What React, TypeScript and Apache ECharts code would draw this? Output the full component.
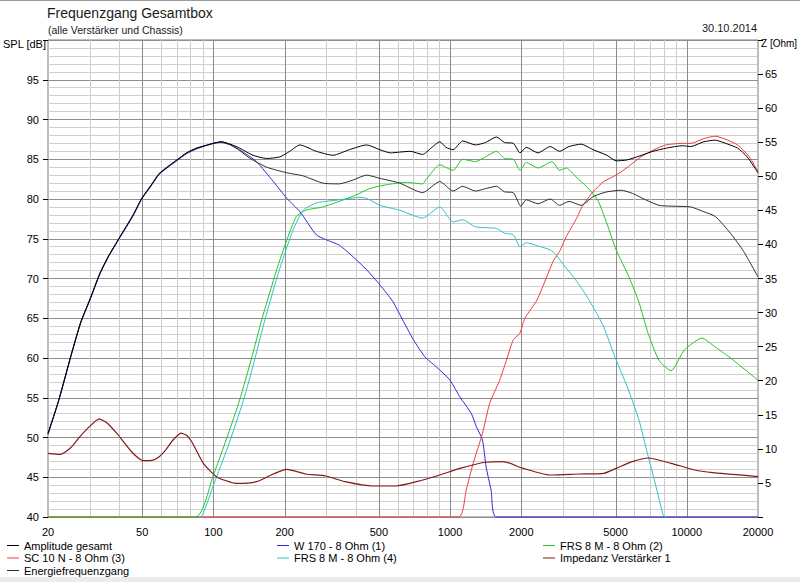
import React, { useEffect, useRef } from "react";
import * as echarts from "echarts";

const FONT = '"Liberation Sans", Arial, sans-serif';

// ---- Frequency axis grid / tick labels ----
const gridFreqs = [
  20, 30, 40, 50, 60, 70, 80, 90,
  100, 200, 300, 400, 500, 600, 700, 800, 900,
  1000, 2000, 3000, 4000, 5000, 6000, 7000, 8000, 9000,
  10000, 20000,
];
const labeledFreqs = [20, 50, 100, 200, 500, 1000, 2000, 5000, 10000, 20000];

// ---- Amplitude gesamt (dB) ----
const ampFreq = [20, 22.2, 25, 27.5, 30, 33.2, 36, 40, 45.8, 49.6, 55, 59, 65, 70, 77, 85, 100, 108, 118, 129, 147, 168, 191, 210, 232, 272, 320, 375, 444, 505, 560, 612, 680, 765, 830, 905, 960, 1030, 1130, 1280, 1410, 1570, 1700, 1850, 1975, 2100, 2350, 2650, 2900, 3180, 3580, 4020, 4600, 5030, 5570, 6300, 7200, 8200, 9600, 10400, 11800, 13200, 14900, 16400, 18000, 20000];
const ampDb = [50.5, 54.7, 60.3, 64.5, 67.3, 70.7, 72.8, 75.1, 78.0, 80.0, 81.9, 83.2, 84.2, 84.9, 85.8, 86.4, 87.0, 87.2, 86.9, 86.4, 85.5, 85.1, 85.3, 86.0, 86.8, 86.0, 85.5, 86.2, 86.8, 86.2, 85.8, 85.9, 86.0, 85.6, 86.4, 87.2, 86.5, 86.2, 87.3, 86.8, 87.1, 87.8, 87.1, 87.0, 85.8, 86.5, 85.8, 86.6, 86.0, 86.6, 86.9, 86.2, 85.5, 84.8, 84.9, 85.4, 86.0, 86.4, 86.7, 86.6, 87.2, 87.4, 86.9, 86.4, 85.3, 83.3];

// ---- W 170 - 8 Ohm (1) ----
const w170Freq = [20, 22.2, 25, 27.5, 30, 33.2, 36, 40, 45.8, 49.6, 55, 59, 65, 70, 77, 85, 100, 108, 118, 129, 152, 179, 204, 232, 272, 298, 340, 390, 444, 505, 573, 630, 700, 780, 850, 904, 1000, 1100, 1230, 1290, 1370, 1420, 1490, 1570, 20000];
const w170Db = [50.4, 54.6, 60.2, 64.4, 67.2, 70.6, 72.7, 75.0, 77.9, 79.9, 81.8, 83.1, 84.1, 84.8, 85.7, 86.3, 87.0, 87.1, 86.8, 86.2, 84.7, 82.2, 80.1, 78.4, 75.5, 74.9, 74.2, 72.7, 71.1, 69.2, 67.1, 64.8, 62.3, 60.2, 59.2, 58.5, 57.2, 55.1, 53.0, 51.4, 49.7, 46.3, 43.4, 40.0, 40.0];

// ---- FRS 8 M - 8 Ohm (2) ----
const frs2Freq = [20, 84, 100, 115, 129, 145, 160, 185, 204, 224, 246, 290, 340, 400, 456, 540, 650, 765, 790, 905, 1030, 1130, 1280, 1410, 1570, 1700, 1850, 1975, 2100, 2350, 2700, 2900, 3100, 3400, 3790, 4200, 4600, 5030, 5700, 6280, 6870, 7630, 8590, 9770, 11600, 12900, 15300, 20000];
const frs2Db = [40.0, 40.0, 45.3, 50.3, 54.7, 60.0, 64.8, 71.1, 74.8, 77.8, 78.6, 79.0, 79.7, 80.5, 81.3, 81.8, 82.1, 81.9, 82.4, 84.3, 83.6, 85.0, 84.7, 85.3, 86.0, 85.1, 85.0, 83.6, 84.6, 83.9, 84.7, 83.6, 83.9, 82.8, 81.5, 79.9, 76.9, 73.6, 70.2, 67.0, 63.1, 59.7, 58.4, 61.0, 62.5, 61.6, 60.0, 57.2];

// ---- SC 10 N - 8 Ohm (3) ----
const sc10Freq = [20, 1084, 1170, 1250, 1370, 1470, 1620, 1730, 1850, 1970, 2070, 2330, 2560, 2740, 2900, 3100, 3400, 3640, 4020, 4460, 5030, 5680, 6400, 7270, 8150, 9600, 10400, 11800, 13200, 14900, 16400, 18400, 20000];
const sc10Db = [40.0, 40.0, 43.4, 46.7, 50.5, 54.3, 57.2, 59.7, 62.3, 63.1, 65.0, 67.3, 70.2, 72.3, 73.4, 75.3, 77.4, 79.2, 80.9, 82.2, 83.0, 84.1, 85.3, 86.2, 86.8, 87.0, 87.0, 87.6, 87.9, 87.4, 86.8, 85.3, 83.4];

// ---- FRS 8 M - 8 Ohm (4) ----
const frs4Freq = [86, 88, 100, 115, 134, 150, 165, 190, 217, 240, 272, 340, 415, 444, 505, 612, 765, 905, 1030, 1130, 1280, 1570, 1700, 1850, 1975, 2100, 2350, 2650, 2800, 3060, 3400, 3790, 4200, 4460, 4990, 5600, 6280, 6820, 7390, 7960, 8200];
const frs4Db = [40.0, 40.0, 44.0, 48.8, 54.7, 60.0, 64.8, 71.1, 76.1, 78.6, 79.5, 79.9, 80.2, 80.1, 79.2, 78.6, 77.6, 79.0, 77.1, 77.4, 76.5, 76.3, 75.7, 75.5, 74.0, 74.5, 74.1, 73.6, 73.0, 71.5, 69.8, 67.7, 65.4, 63.9, 60.0, 56.4, 52.2, 48.0, 44.0, 40.2, 40.0];

// ---- Impedanz Verstärker 1 (Ohm) ----
const impFreq = [20, 22.5, 25, 27.3, 30, 32.9, 35.5, 39, 45.7, 50.6, 55, 59, 63, 67.5, 73, 77, 81, 90.7, 103, 125, 152, 179, 204, 246, 298, 360, 470, 590, 720, 904, 1100, 1410, 1680, 2030, 2650, 3520, 4460, 5030, 5890, 6870, 8590, 10800, 12900, 15700, 20000];
const impOhm = [9.35, 9.2, 10.2, 11.8, 13.3, 14.4, 13.8, 12.3, 9.35, 8.26, 8.3, 8.85, 9.9, 11.3, 12.3, 12.0, 11.05, 7.88, 5.92, 4.94, 5.18, 6.31, 7.0, 6.31, 6.02, 5.18, 4.55, 4.55, 5.18, 6.16, 7.14, 8.03, 8.12, 7.14, 6.16, 6.31, 6.41, 7.14, 8.12, 8.66, 7.88, 6.9, 6.5, 6.26, 5.92];

// ---- Energiefrequenzgang (dB) ----
const energyFreq = [20, 22.2, 25, 27.5, 30, 33.2, 36, 40, 45.8, 49.6, 55, 59, 65, 70, 77, 85, 100, 108, 118, 129, 143, 168, 204, 240, 290, 340, 390, 444, 505, 612, 765, 905, 1030, 1130, 1280, 1410, 1570, 1700, 1850, 1990, 2100, 2350, 2650, 2900, 3180, 3580, 4020, 4600, 5290, 5900, 6700, 7630, 8590, 10400, 11800, 13200, 15300, 17400, 20000];
const energyDb = [50.5, 54.7, 60.3, 64.5, 67.3, 70.7, 72.8, 75.1, 78.0, 80.0, 81.9, 83.2, 84.2, 84.9, 85.8, 86.4, 87.0, 87.2, 86.8, 86.1, 85.1, 84.0, 83.3, 82.9, 82.0, 81.9, 82.4, 83.0, 82.6, 82.0, 80.8, 82.2, 81.0, 81.6, 81.0, 81.3, 81.6, 80.9, 80.8, 79.1, 79.9, 79.4, 80.0, 79.2, 79.7, 79.2, 80.3, 80.9, 81.1, 80.7, 79.9, 79.2, 79.1, 79.0, 78.4, 77.8, 75.7, 73.4, 70.2];

const zip = (xs: number[], ys: number[]) => xs.map((x, i) => [x, ys[i]]);

const NAMES = {
  amp: "Amplitude gesamt",
  w170: "W 170 - 8 Ohm (1)",
  frs2: "FRS 8 M - 8 Ohm (2)",
  sc10: "SC 10 N - 8 Ohm (3)",
  frs4: "FRS 8 M - 8 Ohm (4)",
  imp: "Impedanz Verstärker 1",
  energy: "Energiefrequenzgang",
};

const COLORS = {
  amp: "#000000",
  w170: "#2a2ad6",
  frs2: "#24c424",
  sc10: "#f03a3a",
  frs4: "#2ec2cc",
  imp: "#861818",
  energy: "#2e2e2e",
};

function lineSeries(name: string, color: string, data: number[][], yAxisIndex = 0, width = 1) {
  return {
    type: "line",
    name,
    data,
    yAxisIndex,
    showSymbol: false,
    symbol: "none",
    smooth: 0.2,
    clip: false,
    silent: true,
    z: 3,
    lineStyle: { color, width },
    itemStyle: { color },
    emphasis: { disabled: true },
  };
}

const legendBase = {
  orient: "vertical",
  top: 539.5,
  padding: 0,
  icon: "rect",
  itemWidth: 12,
  itemHeight: 1,
  itemGap: 0.5,
  selectedMode: false,
  textStyle: { fontSize: 11, fontFamily: FONT, color: "#000", lineHeight: 12 },
};

export default function App() {
  const ref = useRef<HTMLDivElement>(null);
  useEffect(() => {
    if (!ref.current) return;
    const chart = echarts.init(ref.current, undefined, { renderer: "svg" });
    const option: any = {
      animation: false,
      backgroundColor: "#ffffff",
      textStyle: { fontFamily: FONT },
      grid: {
        left: 48,
        right: 42,
        top: 40,
        bottom: 65,
        show: true,
        borderColor: "#7a7a7a",
        borderWidth: 1,
        backgroundColor: "#ffffff",
      },
      xAxis: {
        type: "log",
        logBase: 10,
        min: 20,
        max: 20000,
        axisLine: { show: false },
        axisTick: { show: false },
        axisLabel: { show: false },
        splitLine: { show: false },
        minorSplitLine: { show: false },
      },
      yAxis: [
        {
          type: "value",
          position: "left",
          min: 40,
          max: 100,
          interval: 5,
          axisLine: { show: false },
          axisTick: { show: true, length: 5, lineStyle: { color: "#000" } },
          axisLabel: {
            formatter: (v: number) => (v === 100 ? "" : String(v)),
            color: "#000",
            fontSize: 11,
            fontFamily: FONT,
            margin: 9,
          },
          splitLine: { show: true, lineStyle: { color: "#8e8e8e", width: 1 } },
          minorTick: { show: false, splitNumber: 5 },
          minorSplitLine: { show: true, lineStyle: { color: "#cfcfcf", width: 1 } },
        },
        {
          type: "value",
          position: "right",
          min: 0,
          max: 70,
          interval: 5,
          axisLine: { show: false },
          axisTick: { show: true, length: 5, lineStyle: { color: "#000" } },
          axisLabel: {
            formatter: (v: number) => (v === 0 || v === 70 ? "" : String(v)),
            color: "#000",
            fontSize: 11,
            fontFamily: FONT,
            margin: 7,
          },
          splitLine: { show: false },
        },
      ],
      legend: [
        { ...legendBase, left: 7, data: [NAMES.amp, NAMES.sc10, NAMES.energy] },
        { ...legendBase, left: 277, data: [NAMES.w170, NAMES.frs4] },
        { ...legendBase, left: 543, data: [NAMES.frs2, NAMES.imp] },
      ],
      graphic: [
        { type: "rect", left: 0, top: 0, shape: { width: 800, height: 1 }, style: { fill: "#9a9a9a" }, silent: true },
        { type: "rect", left: 0, top: 577, shape: { width: 800, height: 5 }, style: { fill: "#ececec" }, silent: true },
        { type: "text", left: 47, top: 6, style: { text: "Frequenzgang Gesamtbox", font: `14px ${FONT}`, fill: "#1a1a1a" } },
        { type: "text", left: 48, top: 24, style: { text: "(alle Verstärker und Chassis)", font: `10.5px ${FONT}`, fill: "#1a1a1a" } },
        { type: "text", right: 43, top: 22, style: { text: "30.10.2014", font: `11px ${FONT}`, fill: "#1a1a1a" } },
        { type: "text", left: 3, top: 38, style: { text: "SPL [dB]", font: `11px ${FONT}`, fill: "#000" } },
        { type: "text", left: 761, top: 38, style: { text: "Z [Ohm]", font: `10px ${FONT}`, fill: "#000" } },
      ],
      series: [
        {
          type: "custom",
          name: "xgrid",
          silent: true,
          z: 1,
          clip: false,
          data: gridFreqs.map((f) => [f, 40]),
          encode: { x: 0, y: 1 },
          renderItem: (_params: any, api: any) => {
            const f = api.value(0);
            const a = api.coord([f, 40]);
            const b = api.coord([f, 100]);
            const major = labeledFreqs.indexOf(f) >= 0;
            const x = Math.round(a[0]) + 0.5;
            const children: any[] = [];
            if (f !== 20 && f !== 20000) {
              children.push({
                type: "line",
                shape: { x1: x, y1: a[1], x2: x, y2: b[1] },
                style: { stroke: major ? "#8c8c8c" : "#cdcdcd", lineWidth: 1 },
              });
            }
            if (major) {
              children.push({
                type: "text",
                x: a[0],
                y: a[1] + 9,
                style: {
                  text: String(f),
                  align: "center",
                  verticalAlign: "top",
                  textAlign: "center",
                  textVerticalAlign: "top",
                  font: `11px ${FONT}`,
                  fill: "#000",
                },
              });
            }
            return { type: "group", children };
          },
        },
        lineSeries(NAMES.w170, COLORS.w170, zip(w170Freq, w170Db)),
        lineSeries(NAMES.sc10, COLORS.sc10, zip(sc10Freq, sc10Db)),
        lineSeries(NAMES.frs2, COLORS.frs2, zip(frs2Freq, frs2Db)),
        lineSeries(NAMES.frs4, COLORS.frs4, zip(frs4Freq, frs4Db)),
        lineSeries(NAMES.imp, COLORS.imp, zip(impFreq, impOhm), 1, 1.2),
        lineSeries(NAMES.energy, COLORS.energy, zip(energyFreq, energyDb)),
        lineSeries(NAMES.amp, COLORS.amp, zip(ampFreq, ampDb)),
      ],
    };
    chart.setOption(option);
    return () => chart.dispose();
  }, []);
  return (
    <div
      ref={ref}
      style={{ position: "absolute", left: 0, top: 0, width: 800, height: 582, background: "#fff" }}
    />
  );
}
